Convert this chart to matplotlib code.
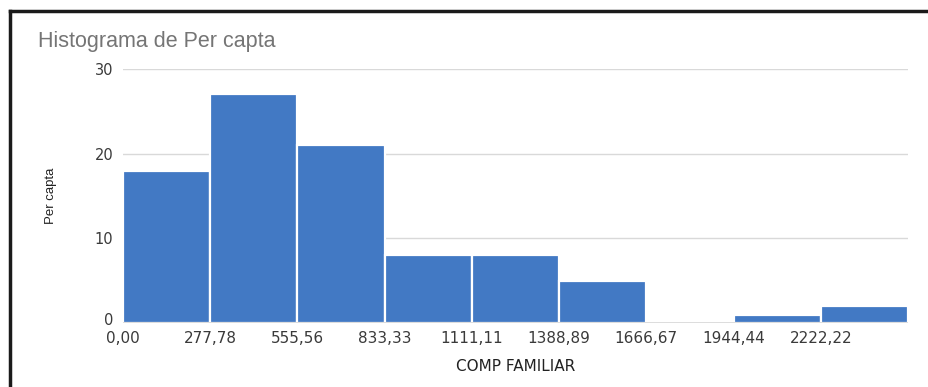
import matplotlib
matplotlib.use("Agg")
import matplotlib.pyplot as plt
from matplotlib.lines import Line2D
import matplotlib.transforms as mtransforms
import numpy as np

plt.rcParams['font.family'] = ['Liberation Sans', 'DejaVu Sans']

# Data
bin_edges = [0.00, 277.78, 555.56, 833.33, 1111.11, 1388.89, 1666.67, 1944.44, 2222.22, 2500.00]
counts = [18, 27, 21, 8, 8, 5, 0, 1, 2]
tick_values = [0.00, 277.78, 555.56, 833.33, 1111.11, 1388.89, 1666.67, 1944.44, 2222.22]
tick_labels = ["0,00", "277,78", "555,56", "833,33", "1111,11", "1388,89", "1666,67", "1944,44", "2222,22"]
y_ticks = [0, 10, 20, 30]

title = "Histograma de Per capta"
xlabel = "COMP FAMILIAR"
ylabel = "Per capta"

W, H = 929, 387
fig = plt.figure(figsize=(W / 100, H / 100), dpi=100)
fig.patch.set_facecolor("white")

left, right, bottom, top = 123, 908, 323, 69
ax = fig.add_axes([left / W, 1 - bottom / H, (right - left) / W, (bottom - top) / H])

widths = np.diff(bin_edges)
ax.bar(bin_edges[:-1], counts, width=widths, align="edge",
       color="#4279c4", edgecolor="white", linewidth=1.6, zorder=3)

ax.set_xlim(bin_edges[0], bin_edges[-1])
ax.set_ylim(0, 30)
ax.set_yticks(y_ticks)
ax.set_yticklabels([str(v) for v in y_ticks], fontsize=10.5, color="#3a3a3a",
                   family="DejaVu Sans")
ax.set_xticks(tick_values)
ax.set_xticklabels(tick_labels, fontsize=11, color="#3a3a3a", family="DejaVu Sans")
ax.tick_params(axis="both", length=0)
ax.tick_params(axis="x", pad=6)
ax.tick_params(axis="y", pad=7)

# lift the "0" label slightly above the baseline as in the reference
zero_lbl = ax.get_yticklabels()[0]
zero_lbl.set_transform(zero_lbl.get_transform() +
                       mtransforms.ScaledTranslation(0, 4 / 100, fig.dpi_scale_trans))

for v in y_ticks[1:]:
    ax.axhline(v, color="#d9d9d9", linewidth=1.0, zorder=1)
ax.axhline(0, color="#555555", linewidth=1.0, zorder=4)

for s in ax.spines.values():
    s.set_visible(False)

ax.set_xlabel(xlabel, fontsize=11, color="#222222", labelpad=9, family="DejaVu Sans")
ax.set_ylabel(ylabel, fontsize=9.5, color="#222222", labelpad=27)

fig.text(38 / W, 1 - 42 / H, title, fontsize=15.5, color="#757575", va="center", ha="left")

# frame lines (left and top)
fig.add_artist(Line2D([10 / W, 10 / W], [0, 1 - 11 / H], transform=fig.transFigure,
                      color="#1a1a1a", linewidth=2.5))
fig.add_artist(Line2D([10 / W, 1], [1 - 11 / H, 1 - 11 / H], transform=fig.transFigure,
                      color="#1a1a1a", linewidth=2.5))

fig.savefig("out.png", dpi=100)
